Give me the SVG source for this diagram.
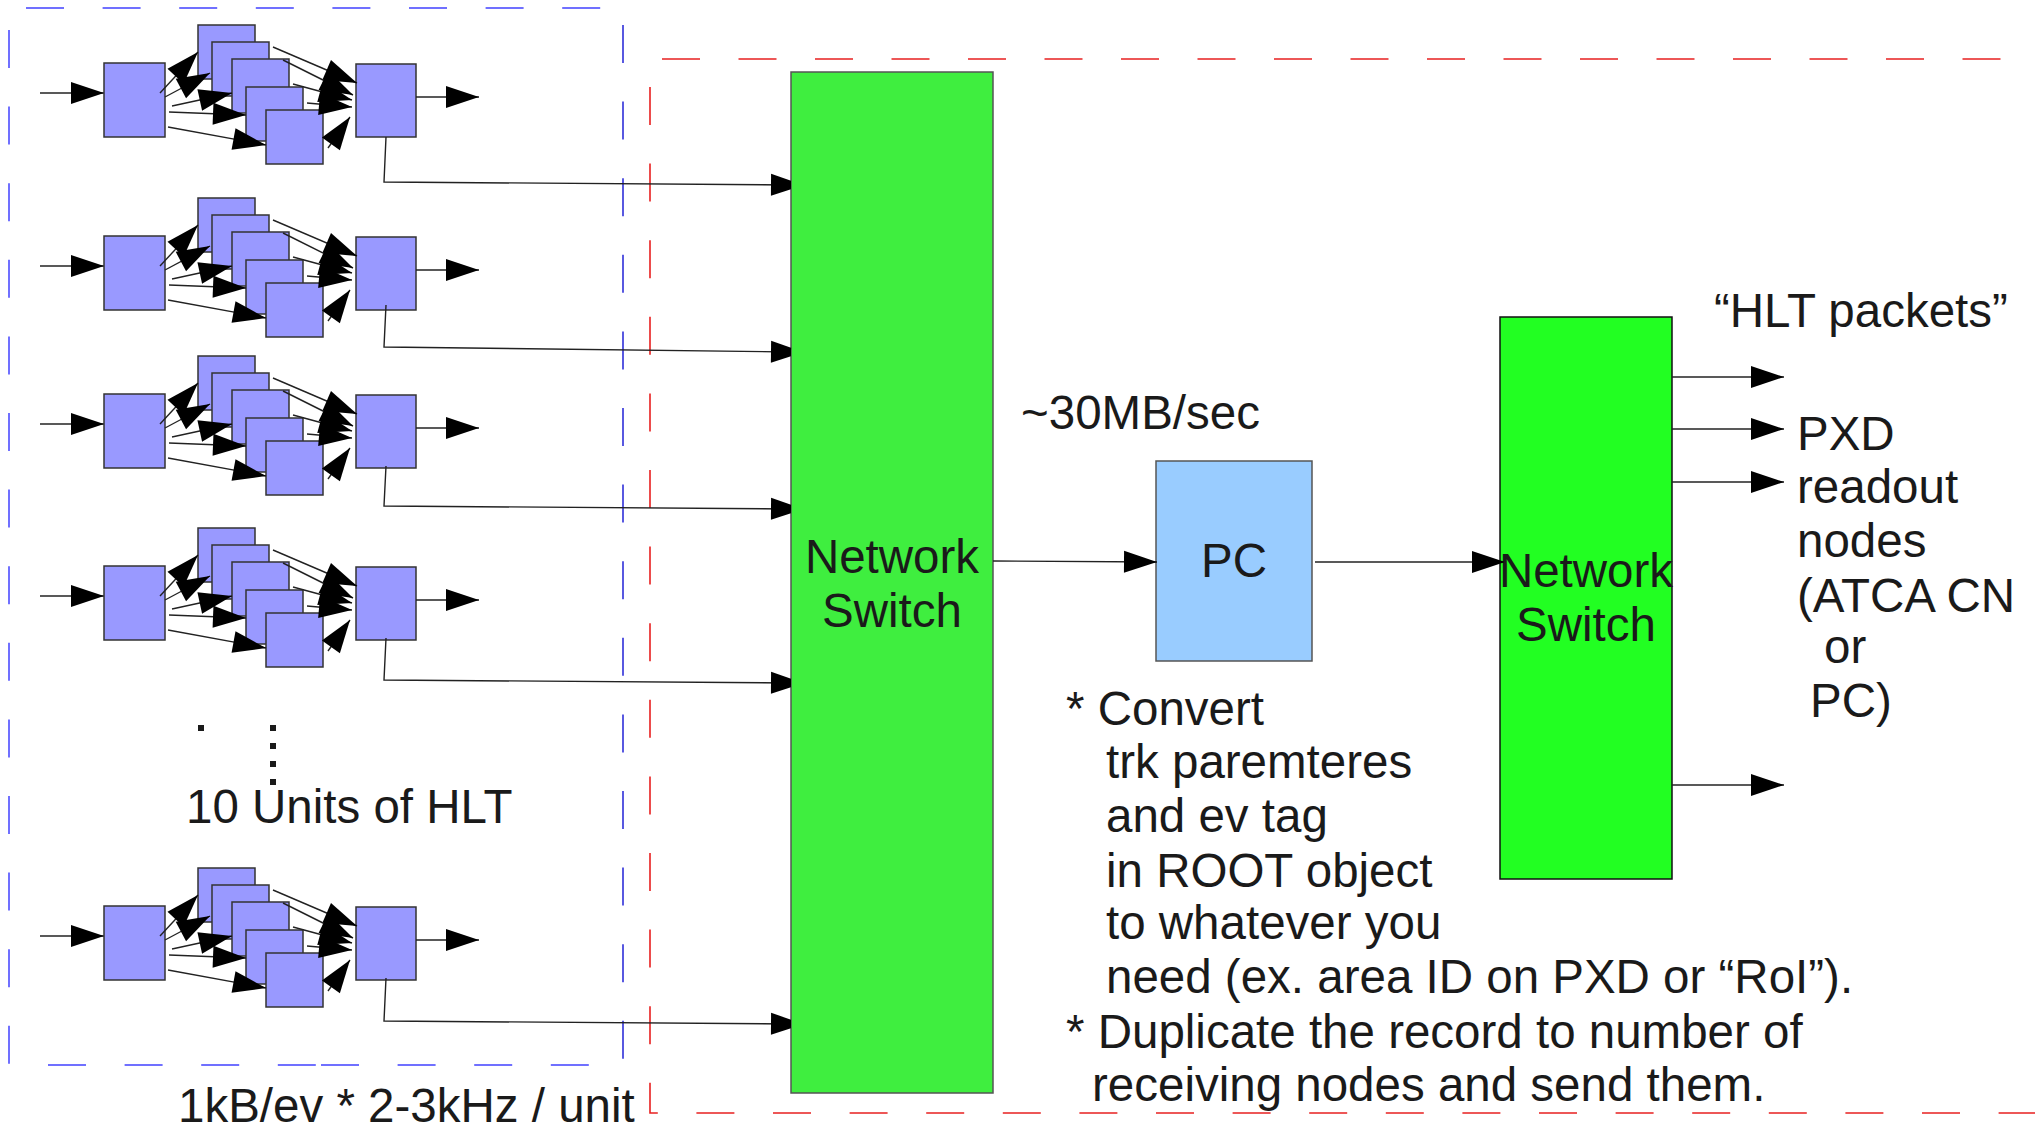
<svg xmlns="http://www.w3.org/2000/svg" xmlns:xlink="http://www.w3.org/1999/xlink" width="2035" height="1129" viewBox="0 0 2035 1129">
  <style>
    .t { font-family: "Liberation Sans", Arial, sans-serif; font-size: 47.5px; fill: #1a1a1a; }
    .mid { text-anchor: middle; }
    .box { fill: #9999ff; stroke: #333; stroke-width: 1.5; }
    .conn { fill: none; stroke: #222; stroke-width: 1.4; }
    .blue { fill: none; stroke: #7070ff; stroke-width: 2; stroke-dasharray: 38 38.6; }
    .blue-thin { fill: none; stroke: #0000d0; stroke-width: 1.3; stroke-dasharray: 38 38.6; }
    .red { fill: none; stroke: #e82020; stroke-width: 1.6; stroke-dasharray: 38 38.6; }
  </style>
  <defs>
    <marker id="ah" markerUnits="userSpaceOnUse" markerWidth="33" markerHeight="22" refX="33" refY="11" orient="auto" overflow="visible">
      <path d="M0 0 L33 11 L0 22 Z" fill="#000"/>
    </marker>
    <!-- arrowhead whose tip is hidden under the switch body -->
    <marker id="ah-cut" markerUnits="userSpaceOnUse" markerWidth="20" markerHeight="22" refX="20" refY="11" orient="auto" overflow="visible">
      <path d="M0 0 L20 6.67 L20 15.33 L0 22 Z" fill="#000"/>
    </marker>
    <!-- one HLT unit: input node, five worker nodes, output node -->
    <g id="hlt-unit">
      <path class="conn" d="M40 93 H104" marker-end="url(#ah)"/>
      <rect class="box" x="104" y="63" width="61" height="74"/>
      <rect class="box" x="198" y="25" width="57" height="54"/>
      <rect class="box" x="212" y="42" width="57" height="54"/>
      <rect class="box" x="232" y="59" width="57" height="54"/>
      <rect class="box" x="246" y="87" width="57" height="54"/>
      <rect class="box" x="266" y="110" width="57" height="54"/>
      <rect class="box" x="356" y="64" width="60" height="73"/>
      <path class="conn" d="M160 93 L198 52" marker-end="url(#ah)"/>
      <path class="conn" d="M165 97 L210 73" marker-end="url(#ah)"/>
      <path class="conn" d="M172 106 L232 93" marker-end="url(#ah)"/>
      <path class="conn" d="M169 112 L246 115" marker-end="url(#ah)"/>
      <path class="conn" d="M168 127 L266 145" marker-end="url(#ah)"/>
      <path class="conn" d="M273 47 L357 83" marker-end="url(#ah)"/>
      <path class="conn" d="M283 60 L353 95" marker-end="url(#ah)"/>
      <path class="conn" d="M293 84 L352 100" marker-end="url(#ah)"/>
      <path class="conn" d="M307 103 L352 107" marker-end="url(#ah)"/>
      <path class="conn" d="M328 148 L350 117" marker-end="url(#ah)"/>
      <path class="conn" d="M416 97 H479" marker-end="url(#ah)"/>
    </g>
  </defs>

  <!-- dashed frame around the HLT farm -->
  <g id="hlt-frame">
    <path class="blue" d="M26 8 H623"/>
    <path class="blue" d="M9 30 V1065"/>
    <path class="blue" d="M48 1065 H316"/>
    <path class="blue" d="M321 1065 H600"/>
    <path class="blue-thin" d="M623 25 V1065"/>
  </g>

  <!-- dashed frame around the event-building side -->
  <g id="eb-frame">
    <path class="red" d="M662 59 H2100" style="stroke-dasharray:38 38.5"/>
    <path class="red" d="M650 87 V1113 H2100"/>
  </g>

  <!-- HLT units -->
  <g id="hlt-unit-1"><use xlink:href="#hlt-unit"/></g>
  <g id="hlt-unit-2" transform="translate(0,173)"><use xlink:href="#hlt-unit"/></g>
  <g id="hlt-unit-3" transform="translate(0,331)"><use xlink:href="#hlt-unit"/></g>
  <g id="hlt-unit-4" transform="translate(0,503)"><use xlink:href="#hlt-unit"/></g>
  <g id="hlt-unit-5" transform="translate(0,843)"><use xlink:href="#hlt-unit"/></g>

  <!-- ellipsis and labels for the farm -->
  <g id="farm-ellipsis" fill="#1a1a1a">
    <rect x="198" y="725" width="6" height="6"/>
    <rect x="270" y="725" width="6" height="6"/>
    <rect x="270" y="743" width="6" height="6"/>
    <rect x="270" y="761" width="6" height="6"/>
    <rect x="270" y="779" width="6" height="6"/>
  </g>
  <text class="t" x="186" y="823">10 Units of HLT</text>
  <text class="t" x="178" y="1122">1kB/ev * 2-3kHz / unit</text>

  <!-- nodes -->
  <g id="network-switch-1">
    <rect x="791" y="72" width="202" height="1021" fill="#3fee3f" stroke="#555" stroke-width="1.5"/>
    <text class="t mid" x="892" y="573">Network</text>
    <text class="t mid" x="892" y="627">Switch</text>
  </g>
  <g id="pc">
    <rect x="1156" y="461" width="156" height="200" fill="#99ccff" stroke="#555" stroke-width="1.5"/>
    <text class="t mid" x="1234" y="577">PC</text>
  </g>
  <g id="network-switch-2">
    <rect x="1500" y="317" width="172" height="562" fill="#22ff22" stroke="#111" stroke-width="1.5"/>
    <text class="t mid" x="1586" y="587">Network</text>
    <text class="t mid" x="1586" y="641">Switch</text>
  </g>

  <!-- connectors -->
  <g id="connectors">
    <path class="conn" d="M386 137 L384 182 L791 185" marker-end="url(#ah-cut)"/>
    <path class="conn" d="M386 305 L384 347 L791 352" marker-end="url(#ah-cut)"/>
    <path class="conn" d="M386 466 L384 506 L791 509" marker-end="url(#ah-cut)"/>
    <path class="conn" d="M386 638 L384 680 L791 683" marker-end="url(#ah-cut)"/>
    <path class="conn" d="M386 978 L384 1021 L791 1024" marker-end="url(#ah-cut)"/>
    <path class="conn" d="M993 561 L1157 562" marker-end="url(#ah)"/>
    <path class="conn" d="M1315 562 H1505" marker-end="url(#ah)"/>
    <path class="conn" d="M1672 377 H1784" marker-end="url(#ah)"/>
    <path class="conn" d="M1672 429 H1784" marker-end="url(#ah)"/>
    <path class="conn" d="M1672 482 H1784" marker-end="url(#ah)"/>
    <path class="conn" d="M1672 785 H1784" marker-end="url(#ah)"/>
  </g>

  <!-- annotations -->
  <text class="t" x="1021" y="429">~30MB/sec</text>
  <text class="t" x="1714" y="327">“HLT packets”</text>
  <g id="readout-label">
    <text class="t" x="1797" y="450">PXD</text>
    <text class="t" x="1797" y="503">readout</text>
    <text class="t" x="1797" y="557">nodes</text>
    <text class="t" x="1797" y="612">(ATCA CN</text>
    <text class="t" x="1824" y="663">or</text>
    <text class="t" x="1810" y="717">PC)</text>
  </g>
  <g id="pc-notes">
    <text class="t" x="1066" y="725">* Convert</text>
    <text class="t" x="1106" y="778">trk paremteres</text>
    <text class="t" x="1106" y="832">and ev tag</text>
    <text class="t" x="1106" y="887">in ROOT object</text>
    <text class="t" x="1106" y="939">to whatever you</text>
    <text class="t" x="1106" y="993">need (ex. area ID on PXD or “RoI”).</text>
    <text class="t" x="1066" y="1048">* Duplicate the record to number of</text>
    <text class="t" x="1092" y="1101">receiving nodes and send them.</text>
  </g>
</svg>
